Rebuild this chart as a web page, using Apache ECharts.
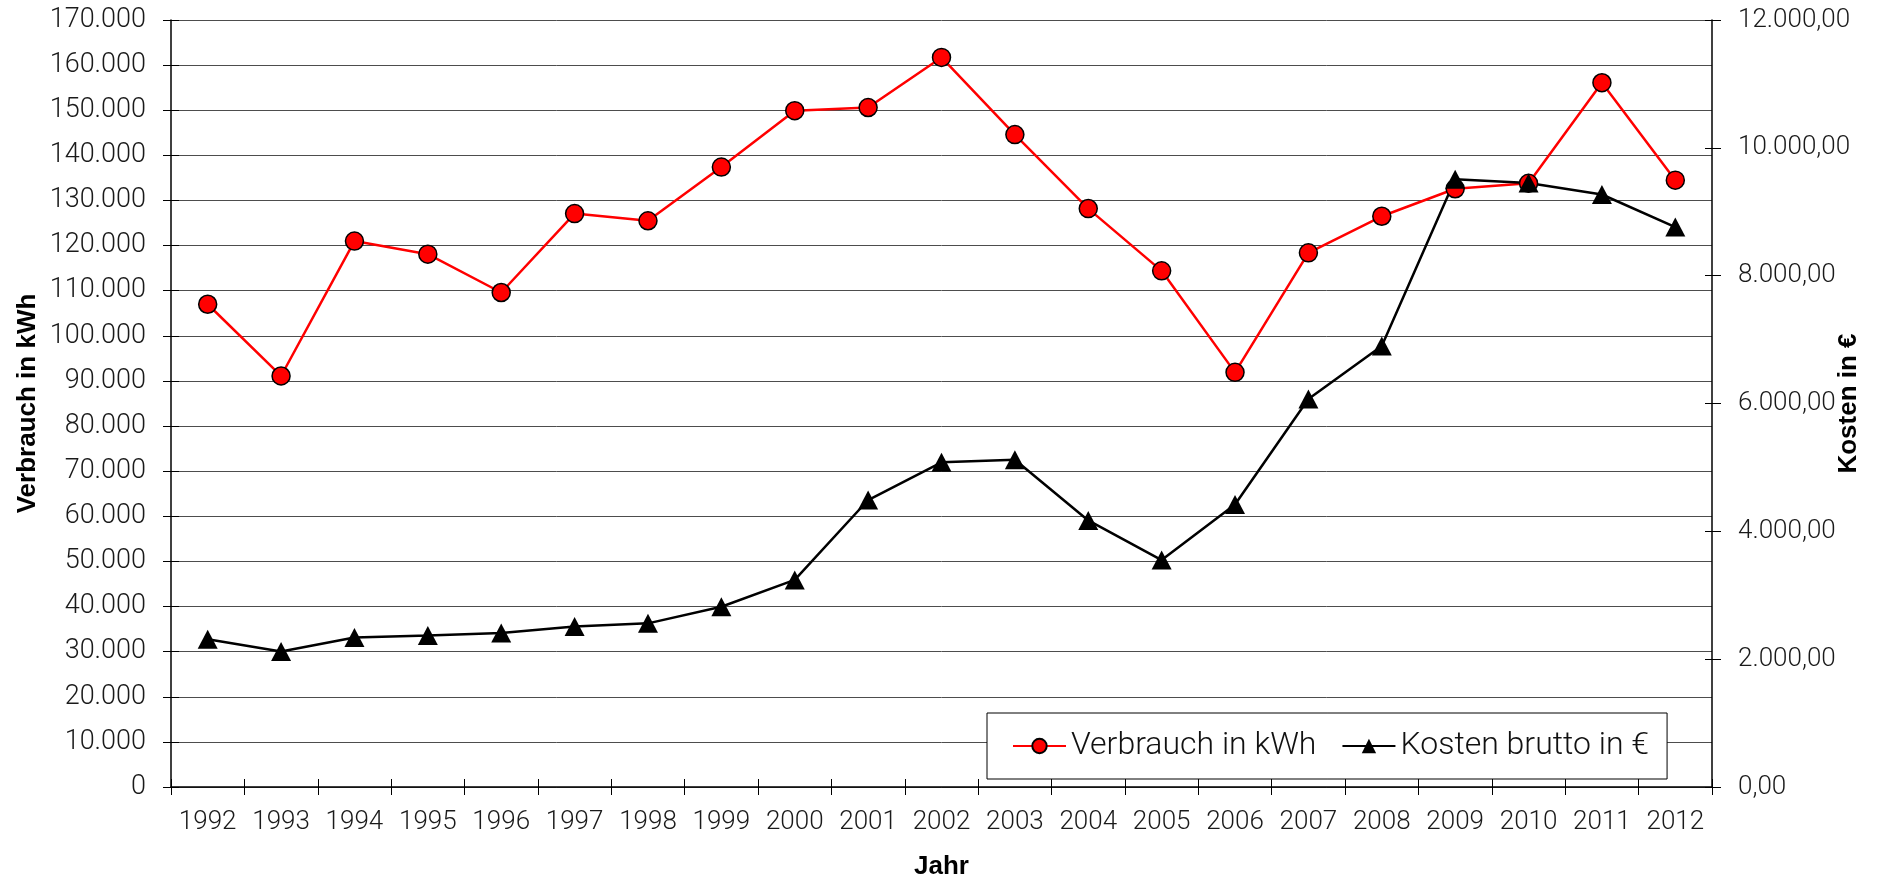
<!DOCTYPE html>
<html>
<head>
<meta charset="utf-8">
<script src="https://cdn.jsdelivr.net/npm/echarts@6/dist/echarts.min.js"></script>
<style>
  html, body { margin: 0; padding: 0; background: #fff; }
  #chart { width: 1879px; height: 880px; }
</style>
</head>
<body>
<div id="chart"></div>
<script>
// Daten
const jahre = ['1992', '1993', '1994', '1995', '1996', '1997', '1998', '1999', '2000', '2001', '2002',
    '2003', '2004', '2005', '2006', '2007', '2008', '2009', '2010', '2011', '2012']
const verbrauch = [107000, 91100, 121000, 118100, 109600, 127100, 125500, 137400, 149900, 150600, 161700,
    144600, 128200, 114400, 91900, 118400, 126500, 132600, 133800, 156100, 134500]
const kosten = [2310, 2120, 2340, 2370, 2410, 2510, 2560, 2820, 3240, 4490, 5080,
    5120, 4170, 3550, 4420, 6070, 6900, 9510, 9450, 9270, 8760]

const kwhMax = 170000, kwhStep = 10000
const euroMax = 12000, euroStep = 2000

function tausender(v) {
    return String(v).replace(/\B(?=(\d{3})+(?!\d))/g, '.')
}

const tickFont = { fontFamily: 'Roboto', fontWeight: 300, fontSize: 27, color: '#1a1a1a' }
const titleFont = { fontFamily: 'Liberation Sans', fontWeight: 'bold', fontSize: 26, color: '#000' }

const chart = echarts.init(document.getElementById('chart'), null, { renderer: 'canvas' })

chart.setOption({
    animation: false,
    backgroundColor: '#fff',
    grid: { left: 171, right: 167, top: 20, bottom: 93, containLabel: false, outerBoundsMode: 'none' },
    legend: {
        left: 987,
        top: 713,
        backgroundColor: '#fff',
        borderColor: '#000',
        borderWidth: 1,
        borderRadius: 0,
        padding: [15, 18, 15, 25],
        itemWidth: 53,
        itemHeight: 18,
        itemGap: 25,
        textStyle: { fontFamily: 'Roboto', fontWeight: 300, fontSize: 32, color: '#111', lineHeight: 36 },
        data: ['Verbrauch in kWh', 'Kosten brutto in €']
    },
    xAxis: [
        {
            type: 'category',
            data: jahre,
            boundaryGap: true,
            name: 'Jahr',
            nameLocation: 'middle',
            nameGap: 67,
            nameTextStyle: titleFont,
            axisLine: { lineStyle: { color: '#000', width: 1.5 } },
            axisTick: { show: true, length: 8, lineStyle: { color: '#000', width: 1 } },
            axisLabel: Object.assign({ margin: 22, interval: 0 }, tickFont, { fontSize: 26 }),
            splitLine: { show: false }
        },
        {
            // innere Ticks (Kreuz-Markierung)
            type: 'category',
            data: jahre,
            position: 'bottom',
            boundaryGap: true,
            axisLine: { show: false },
            axisTick: { show: true, inside: true, length: 8, lineStyle: { color: '#000', width: 1 } },
            axisLabel: { show: false },
            splitLine: { show: false }
        }
    ],
    yAxis: [
        {
            type: 'value',
            min: 0,
            max: kwhMax,
            interval: kwhStep,
            name: 'Verbrauch in kWh',
            nameLocation: 'middle',
            nameGap: 130,
            nameMoveOverlap: false,
            nameTextStyle: titleFont,
            axisLine: { show: true, lineStyle: { color: '#000', width: 1.5 } },
            axisTick: { show: true, length: 8, lineStyle: { color: '#000' } },
            axisLabel: Object.assign({ margin: 25, formatter: v => tausender(v) }, tickFont),
            splitLine: { show: true, lineStyle: { color: '#4d4d4d', width: 1 } }
        },
        {
            type: 'value',
            position: 'right',
            min: 0,
            max: euroMax,
            interval: euroStep,
            name: 'Kosten in €',
            nameLocation: 'middle',
            nameGap: 124,
            nameMoveOverlap: false,
            nameTextStyle: titleFont,
            axisLine: { show: true, lineStyle: { color: '#000', width: 1.5 } },
            axisTick: { show: true, length: 9, lineStyle: { color: '#000' } },
            axisLabel: Object.assign({ margin: 26, formatter: v => tausender(v) + ',00' }, tickFont, { fontSize: 26 }),
            splitLine: { show: false }
        },
        {
            type: 'value',
            position: 'left',
            min: 0,
            max: kwhMax,
            interval: kwhStep,
            axisLine: { show: false },
            axisTick: { show: true, inside: true, length: 8, lineStyle: { color: '#000' } },
            axisLabel: { show: false },
            splitLine: { show: false }
        },
        {
            type: 'value',
            position: 'right',
            min: 0,
            max: euroMax,
            interval: euroStep,
            axisLine: { show: false },
            axisTick: { show: true, inside: true, length: 7, lineStyle: { color: '#000' } },
            axisLabel: { show: false },
            splitLine: { show: false }
        }
    ],
    series: [
        {
            name: 'Verbrauch in kWh',
            type: 'line',
            yAxisIndex: 0,
            data: verbrauch,
            symbol: 'circle',
            symbolSize: 18,
            lineStyle: { color: '#ff0000', width: 2.5 },
            itemStyle: { color: '#ff0000', borderColor: '#000', borderWidth: 1.5 }
        },
        {
            name: 'Kosten brutto in €',
            type: 'line',
            yAxisIndex: 1,
            data: kosten,
            symbol: 'triangle',
            symbolSize: [20, 19],
            lineStyle: { color: '#000', width: 2.5 },
            itemStyle: { color: '#000', borderColor: '#000', borderWidth: 0 }
        }
    ]
})
</script>
</body>
</html>
